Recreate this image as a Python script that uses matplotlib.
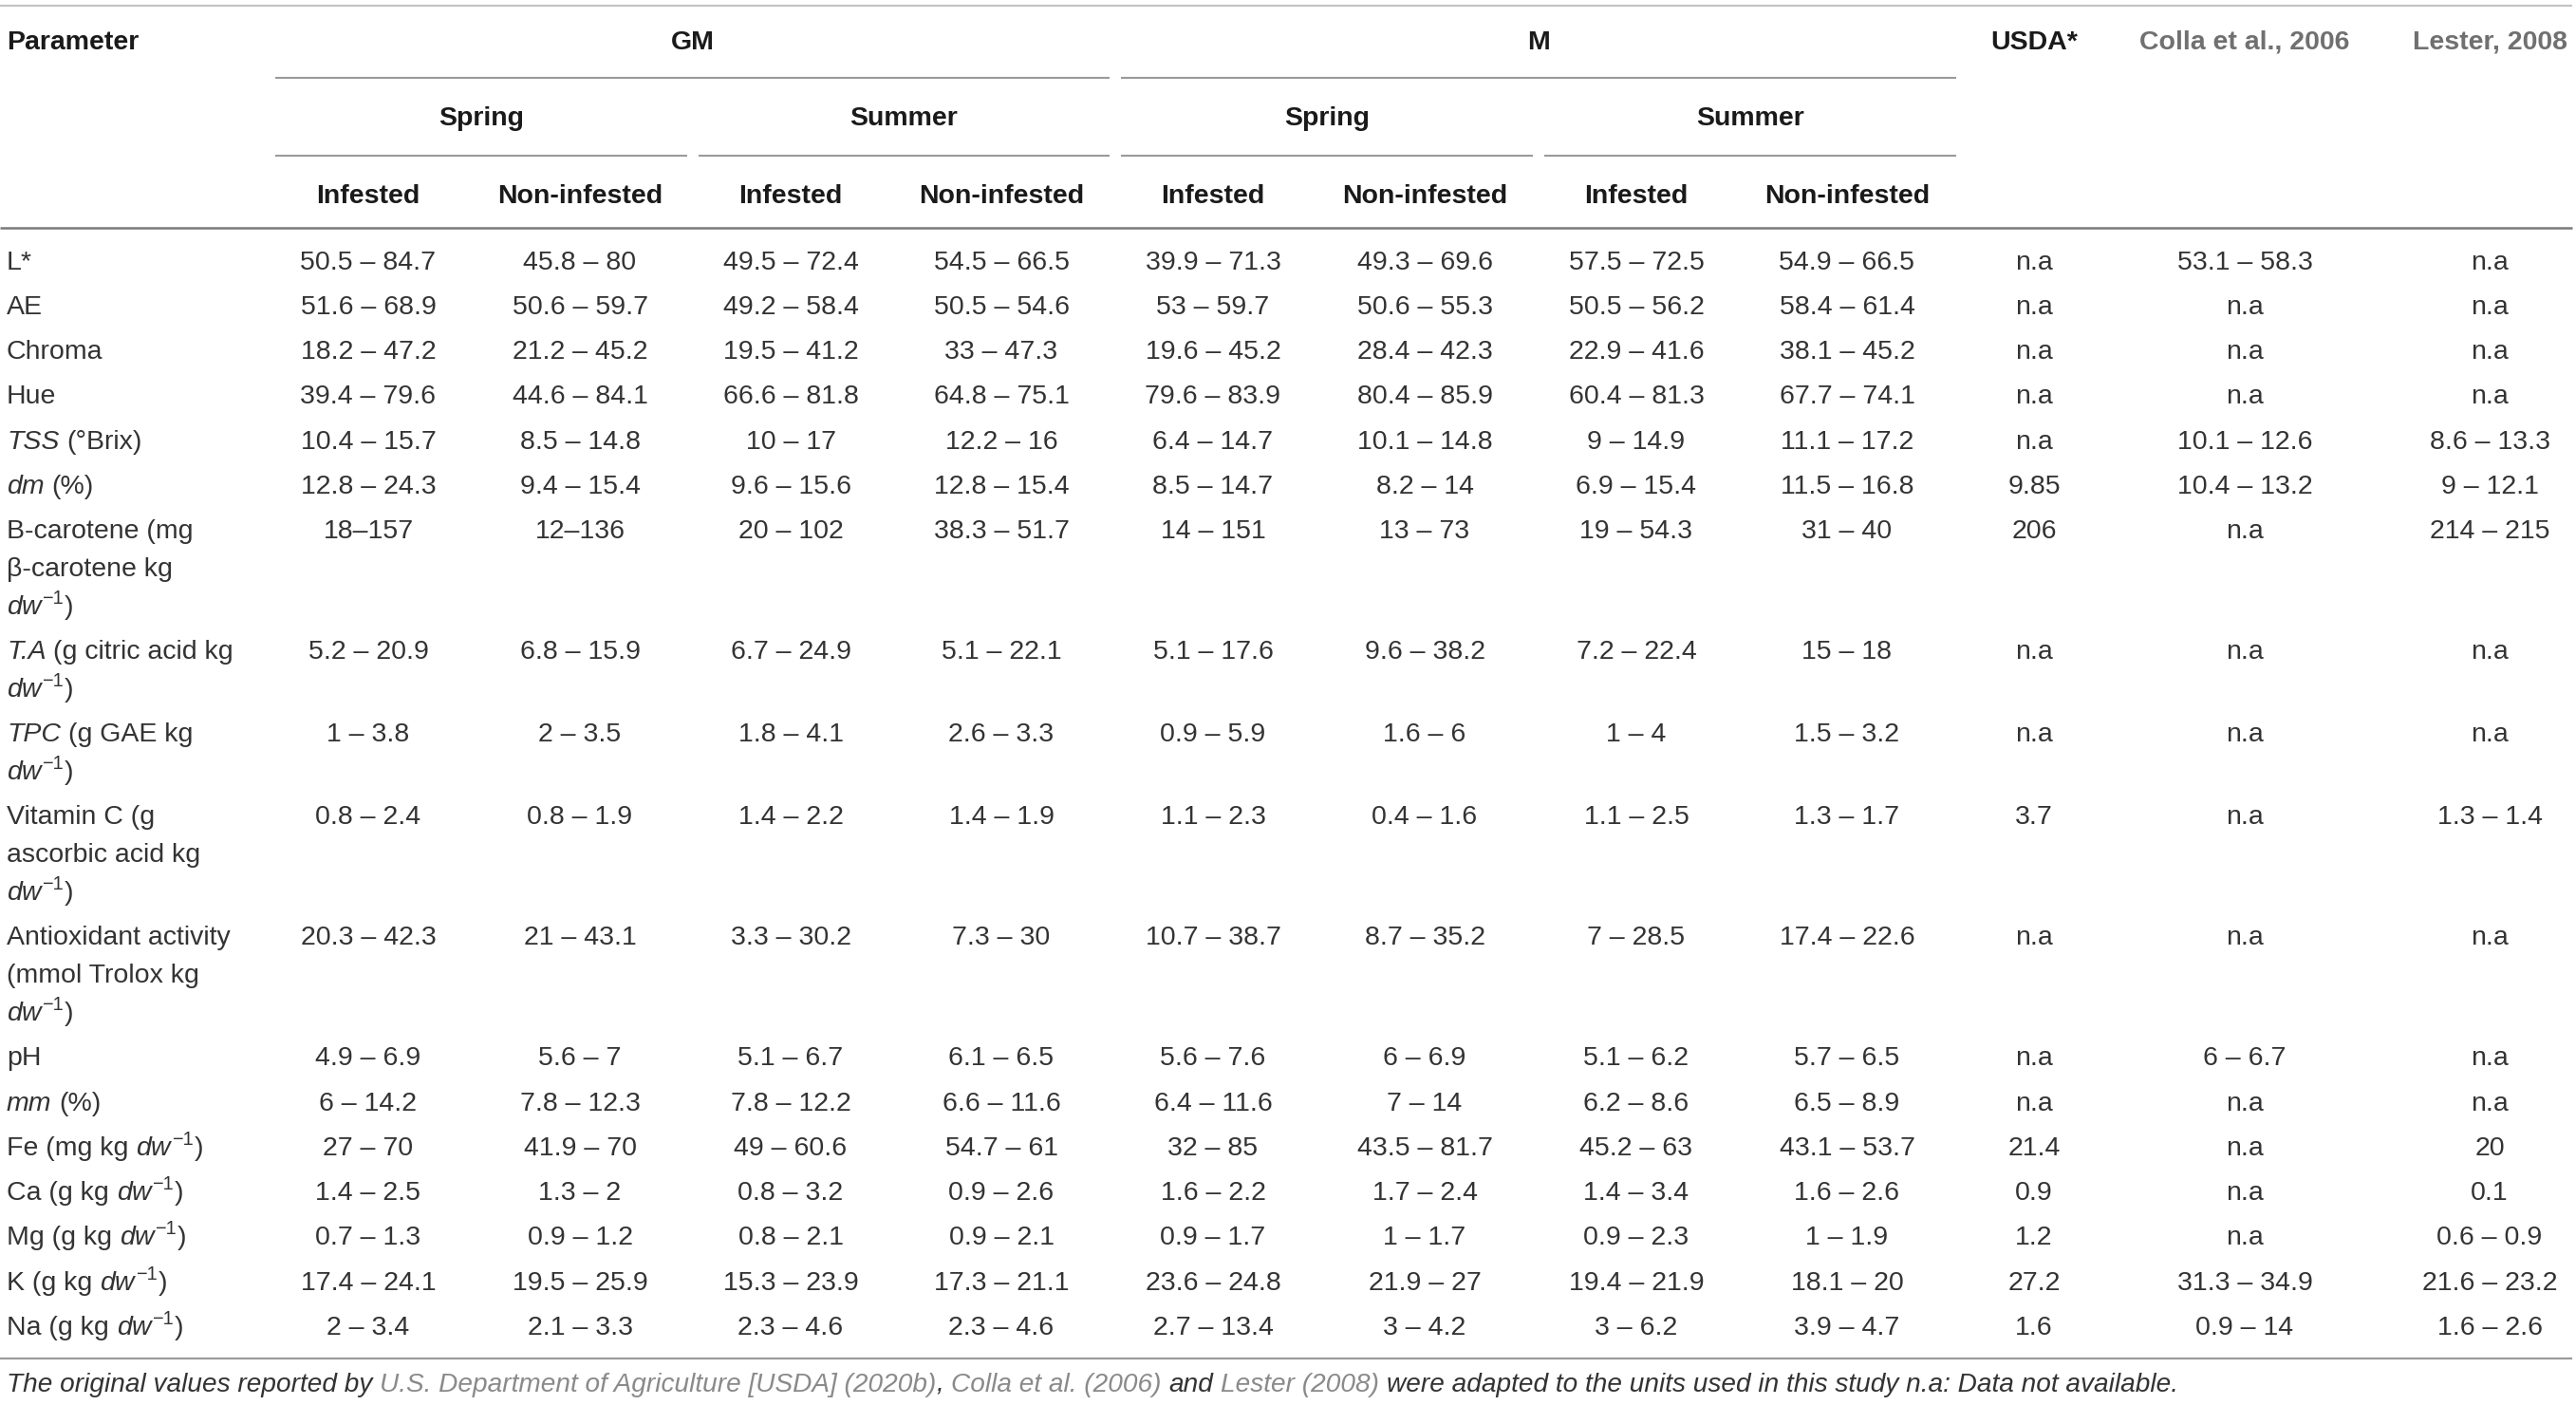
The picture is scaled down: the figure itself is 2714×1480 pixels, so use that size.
import matplotlib
matplotlib.use("Agg")
import matplotlib.pyplot as plt

plt.rcParams["font.family"] = ["Liberation Sans", "DejaVu Sans"]

# ---- table content ------------------------------------------------------
# _x_ marks italic, ⁻¹ marks a -1 superscript
parameters = [
    ["L*"],
    ["AE"],
    ["Chroma"],
    ["Hue"],
    ["_TSS_ (°Brix)"],
    ["_dm_ (%)"],
    ["B-carotene (mg", "β-carotene kg", "_dw_⁻¹)"],
    ["_T.A_ (g citric acid kg", "_dw_⁻¹)"],
    ["_TPC_ (g GAE kg", "_dw_⁻¹)"],
    ["Vitamin C (g", "ascorbic acid kg", "_dw_⁻¹)"],
    ["Antioxidant activity", "(mmol Trolox kg", "_dw_⁻¹)"],
    ["pH"],
    ["_mm_ (%)"],
    ["Fe (mg kg _dw_⁻¹)"],
    ["Ca (g kg _dw_⁻¹)"],
    ["Mg (g kg _dw_⁻¹)"],
    ["K (g kg _dw_⁻¹)"],
    ["Na (g kg _dw_⁻¹)"],
]

gm_spring_inf = ["50.5 – 84.7", "51.6 – 68.9", "18.2 – 47.2", "39.4 – 79.6", "10.4 – 15.7",
                 "12.8 – 24.3", "18–157", "5.2 – 20.9", "1 – 3.8", "0.8 – 2.4", "20.3 – 42.3",
                 "4.9 – 6.9", "6 – 14.2", "27 – 70", "1.4 – 2.5", "0.7 – 1.3", "17.4 – 24.1",
                 "2 – 3.4"]
gm_spring_non = ["45.8 – 80", "50.6 – 59.7", "21.2 – 45.2", "44.6 – 84.1", "8.5 – 14.8",
                 "9.4 – 15.4", "12–136", "6.8 – 15.9", "2 – 3.5", "0.8 – 1.9", "21 – 43.1",
                 "5.6 – 7", "7.8 – 12.3", "41.9 – 70", "1.3 – 2", "0.9 – 1.2", "19.5 – 25.9",
                 "2.1 – 3.3"]
gm_summer_inf = ["49.5 – 72.4", "49.2 – 58.4", "19.5 – 41.2", "66.6 – 81.8", "10 – 17",
                 "9.6 – 15.6", "20 – 102", "6.7 – 24.9", "1.8 – 4.1", "1.4 – 2.2", "3.3 – 30.2",
                 "5.1 – 6.7", "7.8 – 12.2", "49 – 60.6", "0.8 – 3.2", "0.8 – 2.1", "15.3 – 23.9",
                 "2.3 – 4.6"]
gm_summer_non = ["54.5 – 66.5", "50.5 – 54.6", "33 – 47.3", "64.8 – 75.1", "12.2 – 16",
                 "12.8 – 15.4", "38.3 – 51.7", "5.1 – 22.1", "2.6 – 3.3", "1.4 – 1.9", "7.3 – 30",
                 "6.1 – 6.5", "6.6 – 11.6", "54.7 – 61", "0.9 – 2.6", "0.9 – 2.1", "17.3 – 21.1",
                 "2.3 – 4.6"]
m_spring_inf = ["39.9 – 71.3", "53 – 59.7", "19.6 – 45.2", "79.6 – 83.9", "6.4 – 14.7",
                "8.5 – 14.7", "14 – 151", "5.1 – 17.6", "0.9 – 5.9", "1.1 – 2.3", "10.7 – 38.7",
                "5.6 – 7.6", "6.4 – 11.6", "32 – 85", "1.6 – 2.2", "0.9 – 1.7", "23.6 – 24.8",
                "2.7 – 13.4"]
m_spring_non = ["49.3 – 69.6", "50.6 – 55.3", "28.4 – 42.3", "80.4 – 85.9", "10.1 – 14.8",
                "8.2 – 14", "13 – 73", "9.6 – 38.2", "1.6 – 6", "0.4 – 1.6", "8.7 – 35.2",
                "6 – 6.9", "7 – 14", "43.5 – 81.7", "1.7 – 2.4", "1 – 1.7", "21.9 – 27",
                "3 – 4.2"]
m_summer_inf = ["57.5 – 72.5", "50.5 – 56.2", "22.9 – 41.6", "60.4 – 81.3", "9 – 14.9",
                "6.9 – 15.4", "19 – 54.3", "7.2 – 22.4", "1 – 4", "1.1 – 2.5", "7 – 28.5",
                "5.1 – 6.2", "6.2 – 8.6", "45.2 – 63", "1.4 – 3.4", "0.9 – 2.3", "19.4 – 21.9",
                "3 – 6.2"]
m_summer_non = ["54.9 – 66.5", "58.4 – 61.4", "38.1 – 45.2", "67.7 – 74.1", "11.1 – 17.2",
                "11.5 – 16.8", "31 – 40", "15 – 18", "1.5 – 3.2", "1.3 – 1.7", "17.4 – 22.6",
                "5.7 – 6.5", "6.5 – 8.9", "43.1 – 53.7", "1.6 – 2.6", "1 – 1.9", "18.1 – 20",
                "3.9 – 4.7"]
usda = ["n.a", "n.a", "n.a", "n.a", "n.a", "9.85", "206", "n.a", "n.a", "3.7", "n.a",
        "n.a", "n.a", "21.4", "0.9", "1.2", "27.2", "1.6"]
colla = ["53.1 – 58.3", "n.a", "n.a", "n.a", "10.1 – 12.6", "10.4 – 13.2", "n.a", "n.a",
         "n.a", "n.a", "n.a", "6 – 6.7", "n.a", "n.a", "n.a", "n.a", "31.3 – 34.9",
         "0.9 – 14"]
lester = ["n.a", "n.a", "n.a", "n.a", "8.6 – 13.3", "9 – 12.1", "214 – 215", "n.a", "n.a",
          "1.3 – 1.4", "n.a", "n.a", "n.a", "20", "0.1", "0.6 – 0.9", "21.6 – 23.2",
          "1.6 – 2.6"]

columns = [gm_spring_inf, gm_spring_non, gm_summer_inf, gm_summer_non,
           m_spring_inf, m_spring_non, m_summer_inf, m_summer_non, usda, colla, lester]

groups = ["GM", "M"]
seasons = ["Spring", "Summer"]
status = ["Infested", "Non-infested"]
ref_headers = ["USDA*", "Colla et al., 2006", "Lester, 2008"]

footnote = [
    ("The original values reported by", "dark"),
    (" U.S. Department of Agriculture [USDA] (2020b)", "link"),
    (",", "dark"),
    (" Colla et al. (2006)", "link"),
    (" and", "dark"),
    (" Lester (2008)", "link"),
    (" were adapted to the units used in this study n.a: Data not available.", "dark"),
]

# ---- layout (pixels) ----------------------------------------------------
W, H = 2714, 1480
FS = 20.5
FS_NOTE = 20.2
TXT = "#333333"
HEAD = "#1a1a1a"
GREY = "#707070"
LINK = "#8a8a8a"
col_x = [388, 611, 833, 1055, 1278, 1501, 1724, 1946, 2143, 2365, 2623]
group_span = [(290, 1169), (1181, 2061)]
season_span = [(290, 724), (736, 1169), (1181, 1615), (1627, 2061)]
row0, row_step, line_step = 275, 47.3, 39.8
base = 8.5  # centre -> baseline

fig = plt.figure(figsize=(W / 100, H / 100), dpi=100)
ax = fig.add_axes([0, 0, 1, 1])
ax.set_xlim(0, W)
ax.set_ylim(H, 0)
ax.axis("off")
renderer = fig.canvas.get_renderer()


def width(s, **kw):
    t = ax.text(0, 0, s, **kw)
    w = t.get_window_extent(renderer).width
    t.remove()
    return w


def advance(s, **kw):
    # ink-based width plus trailing/leading spaces, via a bar glyph
    return width(s + "|", **kw) - width("|", **kw)


def hline(x0, x1, y, c="#9a9a9a", lw=1.5):
    ax.plot([x0, x1], [y, y], color=c, lw=lw, solid_capstyle="butt")


def rich_text(x, y, s, fs=FS, color=TXT):
    space = width("a a", fontsize=fs) - width("aa", fontsize=fs)
    tokens = []
    for i, seg in enumerate(s.split("_")):
        style = "italic" if i % 2 else "normal"
        parts = seg.split("⁻¹")
        for k, p in enumerate(parts):
            if k > 0:
                tokens.append(("−1", "normal", True))
            if p:
                tokens.append((p, style, False))
    for text, style, sup in tokens:
        n_lead = len(text) - len(text.lstrip(" "))
        n_trail = len(text) - len(text.rstrip(" "))
        x += n_lead * space
        body = text.strip(" ")
        size = fs * 0.7 if sup else fs
        yy = y - 11 if sup else y
        if body:
            ax.text(x + (1 if sup else 0), yy, body, fontsize=size, style=style,
                    color=color, va="baseline")
            x += advance(body, fontsize=size, style=style) + (2 if sup else 0)
        x += n_trail * space


# header
hline(0, 2710, 6, c="#c4c4c4", lw=1.6)
ax.text(7, 43 + base, "Parameter", fontsize=FS, fontweight="bold", color=HEAD, va="baseline")
for g, (a, b) in zip(groups, group_span):
    ax.text((a + b) / 2, 43 + base, g, fontsize=FS, fontweight="bold", color=HEAD,
            ha="center", va="baseline")
    hline(a, b, 82)
for i, (a, b) in enumerate(season_span):
    ax.text((a + b) / 2, 123 + base, seasons[i % 2], fontsize=FS, fontweight="bold",
            color=HEAD, ha="center", va="baseline")
    hline(a, b, 164)
for i in range(8):
    ax.text(col_x[i], 205 + base, status[i % 2], fontsize=FS, fontweight="bold",
            color=HEAD, ha="center", va="baseline")
for j, h in enumerate(ref_headers):
    ax.text(col_x[8 + j], 43 + base, h, fontsize=FS, fontweight="bold",
            color=HEAD if j == 0 else GREY, ha="center", va="baseline")
hline(0, 2710, 240, c="#7a7a7a", lw=1.8)

# body
y = row0
for r, lines in enumerate(parameters):
    for k, ln in enumerate(lines):
        rich_text(7, y + k * line_step + base, ln)
    for c, col in enumerate(columns):
        ax.text(col_x[c], y + base, col[r], fontsize=FS, color=TXT, ha="center", va="baseline")
    y += row_step + (len(lines) - 1) * line_step

hline(0, 2710, 1431, c="#9a9a9a", lw=1.6)

# footnote, drawn piece by piece
full = ""
fy = 1457 + base
note_kw = dict(fontsize=FS_NOTE, style="italic")
for piece, kind in footnote:
    lead = len(piece) - len(piece.lstrip())
    full += piece[:lead]
    x = 7 + (advance(full, **note_kw) if full else 0)
    ax.text(x, fy, piece.strip(), color=TXT if kind == "dark" else LINK,
            va="baseline", **note_kw)
    full += piece[lead:]

fig.savefig("out.png", dpi=100)
